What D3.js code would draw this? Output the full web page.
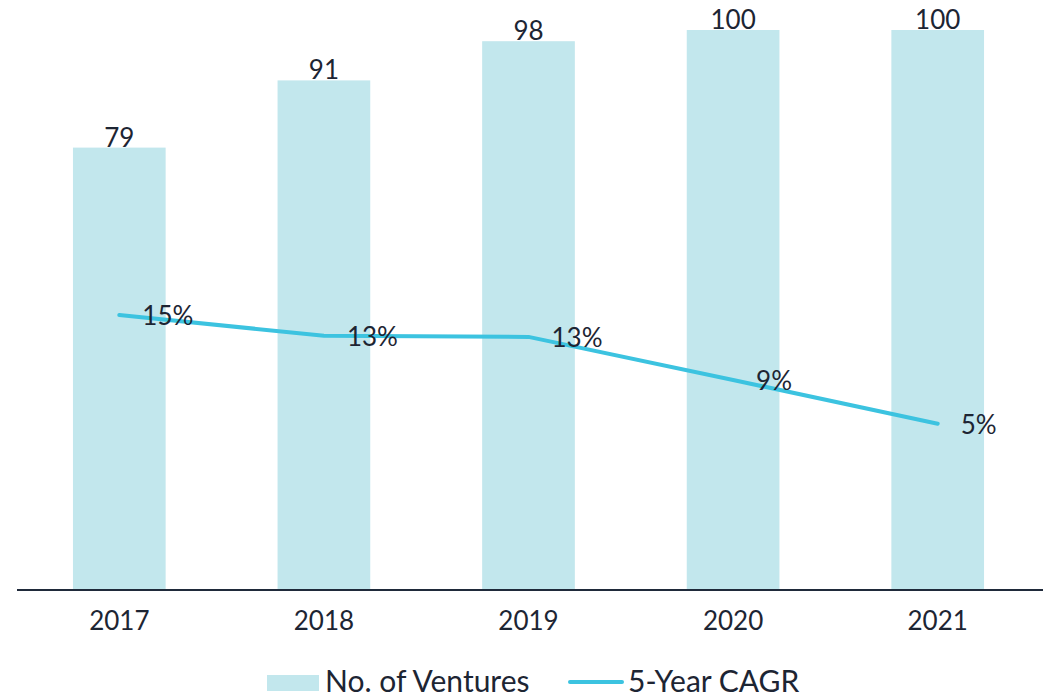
<!DOCTYPE html>
<html>
<head>
<meta charset="utf-8">
<script src="https://cdn.jsdelivr.net/npm/d3@7"></script>
<style>
  body { margin: 0; background: #fff; }
  text { font-family: Lato, "Open Sans", sans-serif; fill: #1d2533; }
</style>
</head>
<body>
<script>
let years = ["2017", "2018", "2019", "2020", "2021"];
let ventures = [79, 91, 98, 100, 100];
let cagr = [14.55, 12.7, 12.6, 8.75, 4.85];
let cagrLabels = ["15%", "13%", "13%", "9%", "5%"];

let width = 1043;
let height = 695;
let margin = {left: 17, right: 3, top: 30, bottom: 105};
let baseY = height - margin.bottom;

let svg = d3.select("body").append("svg").attr("width", width).attr("height", height)

let x = d3.scaleBand().domain(years).range([margin.left, width - margin.right]).paddingInner(0.547).paddingOuter(0.2735)
let y = d3.scaleLinear().domain([0, 100]).range([baseY, margin.top])
let y2 = d3.scaleLinear().domain([-10, 40]).range([baseY, margin.top])

// bars
svg.selectAll("rect.bar")
  .data(years)
  .enter().append("rect")
    .attr("class", "bar")
    .attr("x", d => x(d))
    .attr("y", (d, i) => y(ventures[i]))
    .attr("width", x.bandwidth())
    .attr("height", (d, i) => baseY - y(ventures[i]))
    .attr("fill", "#c2e7ed")

svg.selectAll("text.barlbl")
  .data(years)
  .enter().append("text")
    .attr("class", "barlbl")
    .attr("x", d => x(d) + x.bandwidth() / 2)
    .attr("y", (d, i) => y(ventures[i]) - 1)
    .attr("text-anchor", "middle")
    .attr("font-size", 26)
    .text((d, i) => ventures[i])

// x axis
let xAxis = d3.axisBottom(x).tickSize(0).tickPadding(22)
let ax = svg.append("g").attr("transform", "translate(0," + baseY + ")").call(xAxis)
ax.select(".domain").attr("stroke", "#1f2a3a").attr("stroke-width", 2).attr("d", "M" + margin.left + ",0H" + (width - margin.right + 3))
ax.selectAll("text").attr("font-size", 26).attr("fill", "#1d2533").style("font-family", "Lato, sans-serif")

// line
let line = d3.line().x((d, i) => x(years[i]) + x.bandwidth() / 2).y(d => y2(d))
svg.append("path")
  .datum(cagr)
  .attr("d", line)
  .attr("fill", "none")
  .attr("stroke", "#3cc3e0")
  .attr("stroke-width", 4)
  .attr("stroke-linecap", "round")
  .attr("stroke-linejoin", "round")

svg.selectAll("text.linelbl")
  .data(cagr)
  .enter().append("text")
    .attr("class", "linelbl")
    .attr("x", (d, i) => x(years[i]) + x.bandwidth() / 2 + 23)
    .attr("y", d => y2(d) + 10)
    .attr("font-size", 26)
    .text((d, i) => cagrLabels[i])

// legend (sits at the very bottom, as in the original)
let legend = svg.append("g")
legend.append("rect").attr("x", 267).attr("y", 675).attr("width", 52).attr("height", 16).attr("fill", "#c2e7ed")
legend.append("text").attr("x", 325).attr("y", 692).attr("font-size", 30).text("No. of Ventures")
legend.append("line").attr("x1", 570).attr("x2", 622).attr("y1", 682).attr("y2", 682)
  .attr("stroke", "#3cc3e0").attr("stroke-width", 4).attr("stroke-linecap", "round")
legend.append("text").attr("x", 628).attr("y", 692).attr("font-size", 30).text("5-Year CAGR")
</script>
</body>
</html>
